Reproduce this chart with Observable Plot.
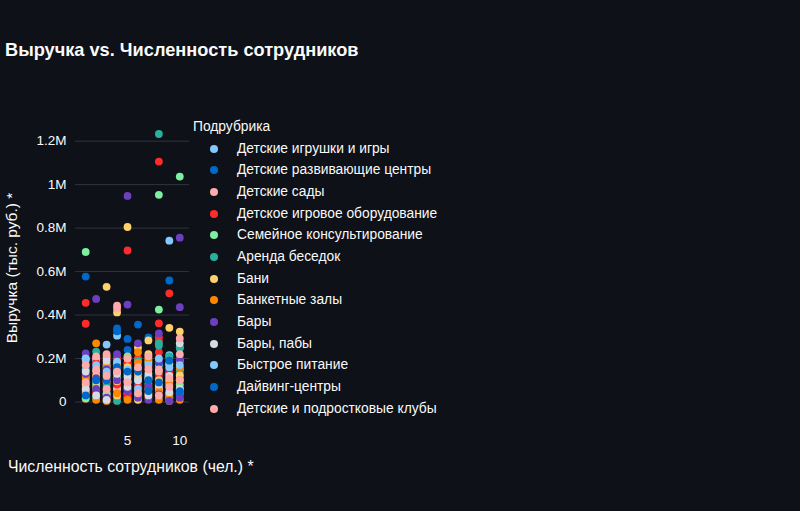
<!DOCTYPE html>
<html>
<head>
<meta charset="utf-8">
<script src="https://cdn.jsdelivr.net/npm/d3@7"></script>
<script src="https://cdn.jsdelivr.net/npm/@observablehq/plot@0.6"></script>
<style>
  html, body { margin: 0; padding: 0; background: #0e1117; }
  #wrap { position: relative; width: 800px; height: 511px; background: #0e1117; overflow: hidden;
          font-family: "Liberation Sans", Arial, sans-serif; color: #fafafa; }
  #title { position: absolute; left: 5px; top: 40px; font-size: 18.2px; font-weight: bold; line-height: 21px; white-space: nowrap; }
  #chart { position: absolute; left: 0; top: 0; }
  #ylabel { position: absolute; left: 12px; top: 268px; font-size: 15.5px; white-space: nowrap;
            transform: translate(-50%, -50%) rotate(-90deg); }
  #xlabel { position: absolute; left: 8px; top: 458px; font-size: 15.8px; line-height: 18px; white-space: nowrap; }
  #legend { position: absolute; left: 193px; top: 116px; font-size: 13.8px; }
  #legend .row { position: relative; height: 21.67px; line-height: 21.67px; white-space: nowrap; }
  #legend .sw { position: absolute; left: 17px; top: 7px; width: 8px; height: 8px; border-radius: 50%; }
  #legend .lb { position: absolute; left: 44px; }
</style>
</head>
<body>
<div id="wrap">
  <div id="title">Выручка vs. Численность сотрудников</div>
  <div id="chart"></div>
  <div id="ylabel">Выручка (тыс. руб.) *</div>
  <div id="xlabel">Численность сотрудников (чел.) *</div>
  <div id="legend"></div>
</div>
<script>
// Categories (legend order) and colours
const legendTitle = "Подрубрика";
const categories = [
  "Детские игрушки и игры",
  "Детские развивающие центры",
  "Детские сады",
  "Детское игровое оборудование",
  "Семейное консультирование",
  "Аренда беседок",
  "Бани",
  "Банкетные залы",
  "Бары",
  "Бары, пабы",
  "Быстрое питание",
  "Дайвинг-центры",
  "Детские и подростковые клубы"
];
const palette = ["#83c9ff","#0068c9","#ffabab","#ff2b2b","#7defa1","#29b09d","#ffd16a","#ff8700","#6d3fc0","#d5dae5","#83c9ff","#0068c9","#ffabab"];

// Series: [employees, revenue in thousands of "тыс. руб." (1000 = 1M)]
const toys = [[1,150],[1,40],[2,95],[2,190],[3,264],[3,130],[4,305],[4,60],[5,175],[5,20],[6,150],[6,110],[7,105],[8,170],[8,65],[9,90],[9,215],[10,250],[10,40]];
const devCenters = [[1,577],[1,185],[1,70],[1,100],[2,160],[2,20],[3,110],[3,40],[4,338],[4,200],[5,240],[5,85],[5,120],[6,356],[6,45],[6,80],[7,297],[7,120],[8,110],[8,180],[8,20],[9,150],[9,40],[10,210],[10,30],[10,140]];
const kindergartens = [[1,120],[1,200],[1,50],[2,200],[2,140],[3,90],[3,30],[3,175],[4,443],[4,170],[4,60],[5,130],[5,40],[6,110],[6,195],[7,60],[7,110],[8,150],[8,60],[9,175],[9,20],[9,130],[10,103],[10,60]];
const playEquipment = [[1,456],[1,360],[1,100],[1,15],[1,170],[2,180],[2,45],[2,120],[3,200],[3,150],[3,55],[3,100],[3,10],[4,200],[4,80],[4,20],[4,140],[5,697],[5,100],[5,30],[5,60],[5,180],[6,70],[6,200],[6,15],[7,160],[7,75],[7,20],[8,1106],[8,362],[8,297],[8,280],[8,229],[8,125],[9,500],[9,140],[9,60],[9,200],[9,100],[10,75],[10,120]];
const familyCounseling = [[1,690],[1,16],[2,80],[3,165],[3,40],[4,110],[5,210],[5,95],[6,25],[7,180],[7,115],[8,953],[8,425],[9,30],[10,1037],[10,80],[10,150]];
const gazeboRent = [[1,165],[2,232],[2,15],[3,75],[4,150],[4,5],[5,60],[6,190],[6,100],[7,85],[8,1233],[8,270],[8,260],[9,210],[9,20],[10,250],[10,140]];
const baths = [[1,80],[1,195],[2,120],[2,65],[3,530],[3,209],[4,412],[4,95],[4,30],[5,805],[5,160],[6,250],[6,130],[6,10],[7,283],[7,220],[7,190],[8,55],[8,100],[9,341],[9,100],[9,175],[10,324],[10,122],[10,190]];
const banquetHalls = [[1,60],[1,110],[2,270],[2,10],[3,5],[3,160],[4,40],[4,180],[5,10],[5,200],[6,229],[6,180],[7,40],[7,200],[8,10],[8,50],[9,80],[9,5],[9,35],[10,159],[10,10],[10,100]];
const bars = [[1,224],[1,130],[2,474],[2,110],[2,60],[3,20],[3,150],[4,220],[4,100],[5,948],[5,448],[5,50],[6,270],[6,20],[7,10],[7,70],[8,316],[8,190],[8,35],[9,5],[9,155],[10,756],[10,436],[10,20],[10,195]];
const pubs = [[1,140],[1,60],[2,30],[3,190],[3,10],[4,130],[5,115],[5,70],[6,100],[7,130],[7,30],[8,80],[9,120],[9,45],[10,270],[10,60]];
const fastFood = [[1,200],[2,170],[3,140],[4,185],[5,150],[6,60],[7,170],[8,200],[9,742],[9,160],[10,170]];
const diving = [[1,30],[2,100],[3,100],[4,325],[4,160],[5,290],[5,140],[6,140],[7,50],[7,100],[8,90],[9,559],[9,190],[10,50]];
const clubs = [[1,90],[1,170],[2,210],[2,150],[3,220],[3,120],[3,60],[4,430],[4,140],[5,90],[5,200],[6,160],[6,40],[7,150],[7,210],[8,140],[8,30],[9,110],[9,70],[10,292],[10,100],[10,220]];
const seriesValues = [toys, devCenters, kindergartens, playEquipment, familyCounseling, gazeboRent, baths, banquetHalls, bars, pubs, fastFood, diving, clubs];

// Tick labels
const xTicks = [5, 10];
const yTicks = [0, 200, 400, 600, 800, 1000, 1200];
const yTickLabels = ["0", "0.2M", "0.4M", "0.6M", "0.8M", "1M", "1.2M"];

const data = categories.flatMap((c, i) => seriesValues[i].map(([x, y]) => ({cat: c, x, y})));

const chart = Plot.plot({
  width: 200,
  height: 468,
  marginLeft: 75,
  marginRight: 11,
  marginTop: 120,
  marginBottom: 40,
  style: {background: "transparent", color: "#fafafa", fontFamily: "'Liberation Sans', Arial, sans-serif", fontSize: "13.5px"},
  x: {domain: [0.024, 10.93], ticks: xTicks, tickSize: 0, tickPadding: 7, label: null},
  y: {domain: [-122, 1295], ticks: yTicks, tickFormat: d => yTickLabels[yTicks.indexOf(d)], tickSize: 0, tickPadding: 9, label: null},
  color: {domain: categories, range: palette},
  marks: [
    Plot.ruleY(yTicks, {stroke: "#31333f", strokeWidth: 1}),
    Plot.dot(data, {x: "x", y: "y", fill: d => d.cat, r: 3.9})
  ]
});
document.getElementById("chart").appendChild(chart);

// Legend
const legend = document.getElementById("legend");
const t = document.createElement("div");
t.className = "row";
t.textContent = legendTitle;
legend.appendChild(t);
categories.forEach((c, i) => {
  const row = document.createElement("div");
  row.className = "row";
  const sw = document.createElement("span");
  sw.className = "sw";
  sw.style.background = palette[i];
  const lb = document.createElement("span");
  lb.className = "lb";
  lb.textContent = c;
  row.appendChild(sw);
  row.appendChild(lb);
  legend.appendChild(row);
});
</script>
</body>
</html>
